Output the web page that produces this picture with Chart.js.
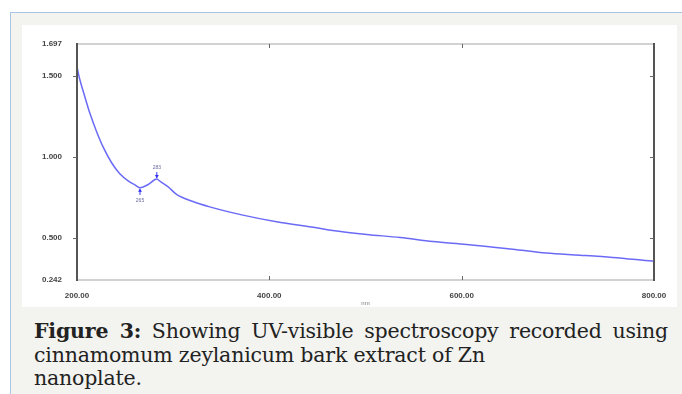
<!DOCTYPE html>
<html>
<head>
<meta charset="utf-8">
<script src="https://cdn.jsdelivr.net/npm/chart.js@4.4.1/dist/chart.umd.min.js"></script>
<style>
    html, body { margin: 0; padding: 0; background: #fff; }
    body { width: 682px; height: 394px; position: relative; overflow: hidden; }
    .panel {
        position: absolute; left: 10px; top: 12px; right: 0; bottom: 0;
        background: #f3f3ef;
        border-top: 1px solid #a9c4e6;
        border-left: 1px solid #a9c4e6;
    }
    .plot-box { position: absolute; left: 22px; top: 25px; width: 655px; height: 282px; background: #fff; }
    canvas { position: absolute; left: 0; top: 0; }
    .caption {
        position: absolute; left: 34px; top: 320px; width: 634px;
        font-family: "DejaVu Serif", serif; font-size: 20.5px; line-height: 23.5px; color: #222;
        letter-spacing: -0.2px;
    }
    .caption .first { text-align: justify; text-align-last: justify; }
    .caption b { font-weight: bold; }
</style>
</head>
<body>
<div class="panel"></div>
<div class="plot-box"><canvas id="spectrum" width="655" height="282"></canvas></div>
<div class="caption">
    <div class="first"><b>Figure 3:</b> Showing UV-visible spectroscopy recorded using</div>
    <div>cinnamomum zeylanicum bark extract of Zn</div>
    <div>nanoplate.</div>
</div>
<script>
// wavelength (nm) and absorbance
const wavelengths = [200, 202, 208, 213.5, 220.5, 227.5, 236, 244.5, 253.5, 261, 265.5, 274, 283, 286.5, 294.5, 303.5, 320.5, 338, 372.5, 407.5, 449, 466, 501, 536, 570, 605, 638, 653, 688, 723, 757, 798, 800];
const absorbance = [1.557, 1.500, 1.375, 1.268, 1.155, 1.058, 0.965, 0.897, 0.852, 0.826, 0.810, 0.831, 0.864, 0.850, 0.818, 0.770, 0.726, 0.693, 0.642, 0.601, 0.564, 0.547, 0.523, 0.504, 0.479, 0.461, 0.441, 0.432, 0.408, 0.395, 0.381, 0.359, 0.358];

// picked peaks
const peakWl = [265.5, 283];
const peakAbs = [0.810, 0.864];
const peakLabels = ['265', '283'];

const xTicks = [200, 400, 600, 800];
const yTicks = [0.242, 0.5, 1.0, 1.5, 1.697];

const frame = {
    id: 'frame',
    afterDraw(chart) {
        const { ctx, chartArea: a, scales } = chart;
        const x = scales.x, y = scales.y;
        ctx.save();
        ctx.lineCap = 'butt';
        // light top / bottom
        ctx.strokeStyle = '#c4c4c4';
        ctx.lineWidth = 1.5;
        ctx.beginPath();
        ctx.moveTo(a.left, a.top); ctx.lineTo(a.right, a.top);
        ctx.moveTo(a.left, a.bottom); ctx.lineTo(a.right, a.bottom);
        ctx.stroke();
        // dark sides
        ctx.strokeStyle = '#555';
        ctx.lineWidth = 2;
        ctx.beginPath();
        ctx.moveTo(a.left, a.top - 1); ctx.lineTo(a.left, a.bottom + 1);
        ctx.moveTo(a.right, a.top - 1); ctx.lineTo(a.right, a.bottom + 1);
        ctx.stroke();
        // tick marks
        ctx.lineWidth = 1;
        ctx.strokeStyle = '#666';
        ctx.beginPath();
        yTicks.slice(1, -1).forEach(v => {
            const py = Math.round(y.getPixelForValue(v)) + 0.5;
            ctx.moveTo(a.left - 4, py); ctx.lineTo(a.left, py);
            ctx.moveTo(a.right - 4, py); ctx.lineTo(a.right, py);
        });
        xTicks.slice(1, -1).forEach(v => {
            const px = Math.round(x.getPixelForValue(v)) + 0.5;
            ctx.moveTo(px, a.top); ctx.lineTo(px, a.top + 4);
            ctx.moveTo(px, a.bottom - 4); ctx.lineTo(px, a.bottom);
        });
        ctx.stroke();
        // peak pick marks
        ctx.strokeStyle = '#3030f0';
        ctx.fillStyle = '#3030f0';
        ctx.font = '5px sans-serif';
        ctx.textAlign = 'center';
        peakWl.forEach((w, i) => {
            const px = x.getPixelForValue(w);
            const py = y.getPixelForValue(peakAbs[i]);
            const dir = i === 0 ? 1 : -1;
            ctx.beginPath();
            ctx.moveTo(px, py + dir * 1); ctx.lineTo(px, py + dir * 7);
            ctx.stroke();
            ctx.beginPath();
            ctx.moveTo(px, py + dir * 1);
            ctx.lineTo(px - 2, py + dir * 4);
            ctx.lineTo(px + 2, py + dir * 4);
            ctx.closePath();
            ctx.fill();
            ctx.fillStyle = '#6a6aa0';
            ctx.fillText(peakLabels[i], px, py + dir * 12 + 2);
            ctx.fillStyle = '#3030f0';
        });
        ctx.restore();
    }
};

new Chart(document.getElementById('spectrum'), {
    type: 'line',
    data: {
        datasets: [{
            data: wavelengths.map((w, i) => ({ x: w, y: absorbance[i] })),
            borderColor: 'rgba(80, 80, 245, 0.85)',
            borderWidth: 1.5,
            pointRadius: 0,
            cubicInterpolationMode: 'monotone',
            fill: false
        }]
    },
    options: {
        responsive: false,
        devicePixelRatio: 1,
        animation: false,
        layout: { padding: { top: 19, right: 23, left: 0, bottom: 0 } },
        plugins: { legend: { display: false }, tooltip: { enabled: false } },
        scales: {
            x: {
                type: 'linear', min: 200, max: 800,
                afterBuildTicks: s => { s.ticks = xTicks.map(v => ({ value: v })); },
                afterFit: s => { s.height = 27; },
                grid: { display: false },
                border: { display: false },
                ticks: {
                    padding: 3, color: '#444', maxRotation: 0,
                    font: { family: 'Liberation Sans', size: 8, weight: 'bold' },
                    callback: v => v.toFixed(2)
                },
                title: { display: true, text: 'nm', color: '#777', padding: 0,
                    font: { family: 'Liberation Sans', size: 6 } }
            },
            y: {
                min: 0.242, max: 1.697,
                afterBuildTicks: s => { s.ticks = yTicks.map(v => ({ value: v })); },
                afterFit: s => { s.width = 55; },
                grid: { display: false },
                border: { display: false },
                ticks: {
                    padding: 7, color: '#444',
                    font: { family: 'Liberation Sans', size: 8, weight: 'bold' },
                    callback: v => v.toFixed(3)
                }
            }
        }
    },
    plugins: [frame]
});
</script>
</body>
</html>
